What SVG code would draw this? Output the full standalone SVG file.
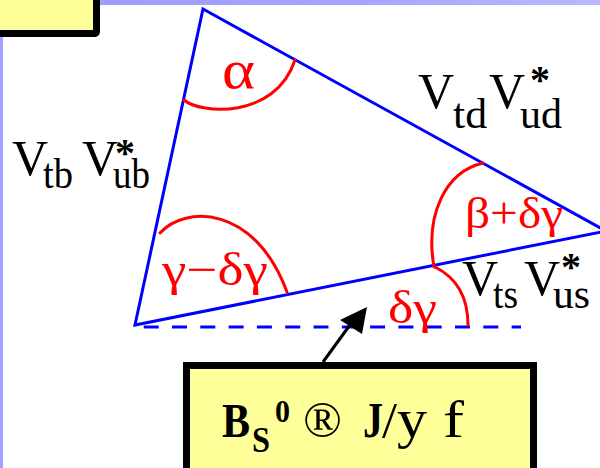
<svg xmlns="http://www.w3.org/2000/svg" width="600" height="468" viewBox="0 0 600 468">
  <defs>
    <linearGradient id="band" x1="0" y1="0" x2="1" y2="0">
      <stop offset="0" stop-color="#9a9aff"/>
      <stop offset="0.6" stop-color="#a5a5ff"/>
      <stop offset="1" stop-color="#b8b8ff"/>
    </linearGradient>
  </defs>
  <style>
    text { font-family: 'Liberation Serif', serif; }
    .blk { fill: #000; }
    .red { fill: #ff0000; }
    .bold { font-weight: bold; }
    .star { font-weight: bold; }
    .edge { stroke: #0000ff; stroke-width: 3; fill: none; stroke-linejoin: miter; }
    .dash { stroke: #0000ff; stroke-width: 3; fill: none; stroke-dasharray: 15 13.3; }
    .arc { stroke: #ff0000; stroke-width: 3; fill: none; stroke-linecap: round; }
    .box { fill: #ffff99; stroke: #000; stroke-width: 7; }
  </style>

  <g id="background">
    <rect x="0" y="0" width="600" height="468" fill="#ffffff"/>
    <rect x="0" y="0" width="600" height="5" fill="url(#band)"/>
    <rect x="0" y="0" width="3" height="468" fill="#a0a0ff"/>
  </g>

  <g id="header-box">
    <rect class="box" x="-10" y="-10" width="106.5" height="43.5" rx="2"/>
  </g>

  <g id="triangle">
    <polygon class="edge" points="203,9 606,231 135,325"/>
    <line class="dash" x1="143.7" y1="327" x2="521" y2="327"/>
  </g>

  <g id="angle-alpha">
    <path class="arc" d="M184,100 C200,114 275,120 295,60"/>
    <text class="red" x="222" y="88" font-size="54" textLength="33" lengthAdjust="spacingAndGlyphs">α</text>
  </g>

  <g id="angle-gamma">
    <path class="arc" d="M160,233 C185,205 255,205 287,292"/>
    <text class="red" x="162" y="285" font-size="46" textLength="106" lengthAdjust="spacingAndGlyphs">γ−δγ</text>
  </g>

  <g id="angle-beta">
    <path class="arc" d="M483,163 C445,172 425,215 434,267"/>
    <text class="red" x="465" y="228" font-size="44" textLength="98" lengthAdjust="spacingAndGlyphs">β+δγ</text>
  </g>

  <g id="angle-delta-gamma">
    <path class="arc" d="M435,267 C455,277 468,295 468,325"/>
    <text class="red" x="388" y="323" font-size="46" textLength="49" lengthAdjust="spacingAndGlyphs">δγ</text>
  </g>

  <g id="label-vtb-vub">
    <text class="blk" x="12" y="175" font-size="50">V</text>
    <text class="blk" x="43" y="188" font-size="42" textLength="30" lengthAdjust="spacingAndGlyphs">tb</text>
    <text class="blk" x="82" y="175" font-size="50">V</text>
    <text class="blk star" x="115" y="166" font-size="40">*</text>
    <text class="blk" x="113" y="188" font-size="42" textLength="37" lengthAdjust="spacingAndGlyphs">ub</text>
  </g>

  <g id="label-vtd-vud">
    <text class="blk" x="418" y="108" font-size="50">V</text>
    <text class="blk" x="453" y="128" font-size="42" textLength="34" lengthAdjust="spacingAndGlyphs">td</text>
    <text class="blk" x="489" y="108" font-size="50">V</text>
    <text class="blk star" x="530" y="93" font-size="40">*</text>
    <text class="blk" x="520" y="128" font-size="42" textLength="42" lengthAdjust="spacingAndGlyphs">ud</text>
  </g>

  <g id="label-vts-vus">
    <text class="blk" x="462" y="295" font-size="50">V</text>
    <text class="blk" x="493" y="308" font-size="42" textLength="25" lengthAdjust="spacingAndGlyphs">ts</text>
    <text class="blk" x="524" y="295" font-size="50">V</text>
    <text class="blk star" x="561" y="280" font-size="40">*</text>
    <text class="blk" x="553" y="308" font-size="42" textLength="37" lengthAdjust="spacingAndGlyphs">us</text>
  </g>

  <g id="decay-box">
    <rect class="box" x="186.5" y="365.5" width="347" height="130"/>
    <text class="blk bold" x="222" y="437" font-size="48" textLength="28" lengthAdjust="spacingAndGlyphs">B</text>
    <text class="blk bold" x="252" y="452" font-size="36" textLength="18" lengthAdjust="spacingAndGlyphs">S</text>
    <text class="blk bold" x="275" y="422" font-size="32" textLength="15" lengthAdjust="spacingAndGlyphs">0</text>
    <text class="blk" x="303" y="437" font-size="50" textLength="39" lengthAdjust="spacingAndGlyphs">®</text>
    <text class="blk bold" x="363" y="437" font-size="50" textLength="20" lengthAdjust="spacingAndGlyphs">J</text>
    <text class="blk" x="382" y="437" font-size="50" textLength="15" lengthAdjust="spacingAndGlyphs">/</text>
    <text class="blk" x="397" y="437" font-size="54" textLength="30" lengthAdjust="spacingAndGlyphs">y</text>
    <text class="blk" x="443" y="437" font-size="52" textLength="21" lengthAdjust="spacingAndGlyphs">f</text>
  </g>

  <g id="connectors">
    <line x1="323" y1="362" x2="355" y2="318" stroke="#000" stroke-width="3"/>
    <polygon points="367,307 340,320 362,334" fill="#000"/>
  </g>
</svg>
